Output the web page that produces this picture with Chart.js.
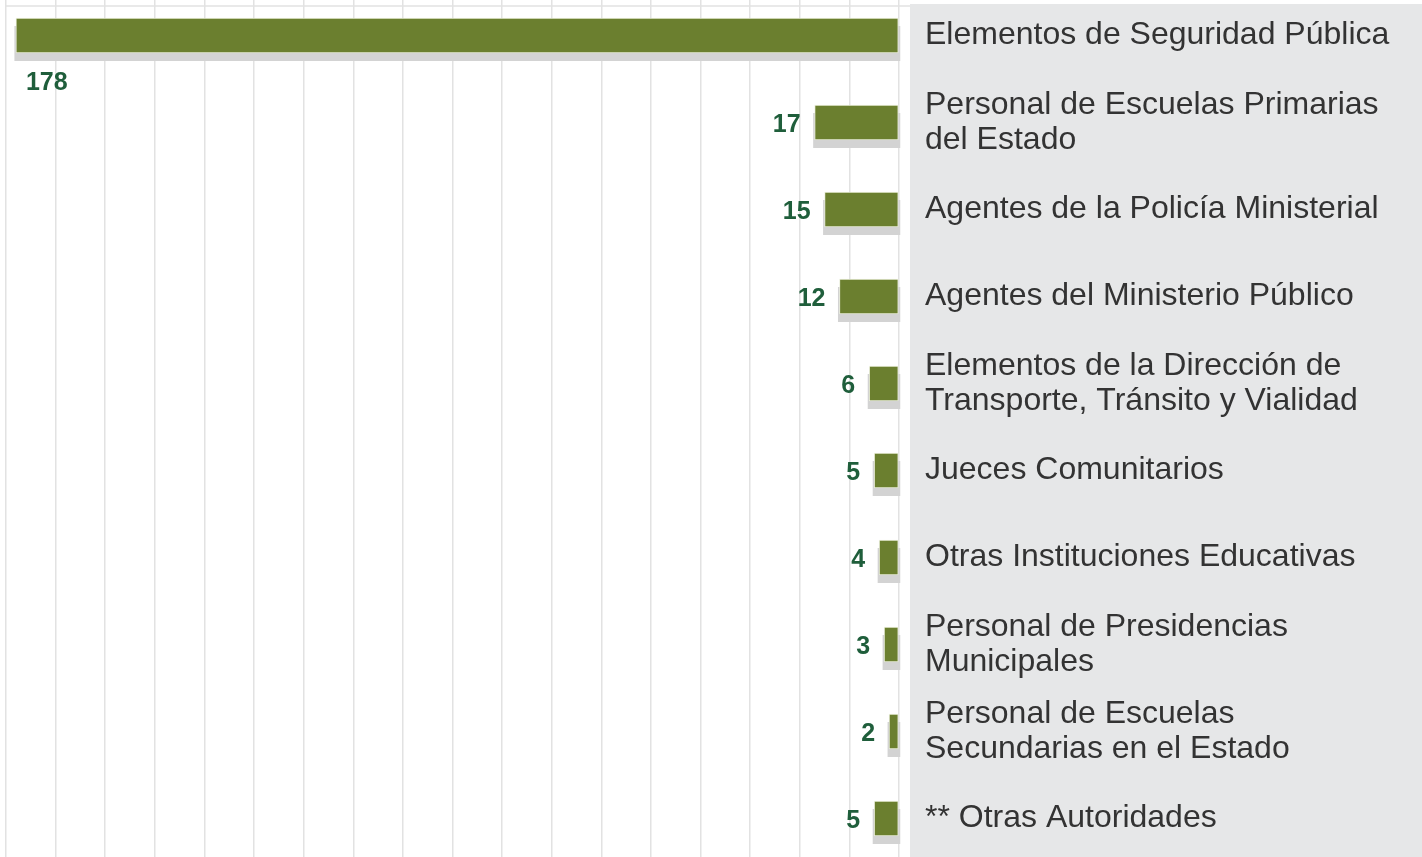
<!DOCTYPE html>
<html>
<head>
<meta charset="utf-8">
<script src="https://cdn.jsdelivr.net/npm/chart.js@4"></script>
<style>
  html, body { margin: 0; padding: 0; background: #fff; overflow: hidden; }
  #wrap { position: absolute; left: 0; top: -8px; width: 1422px; height: 870px; }
</style>
</head>
<body>
<div id="wrap"><canvas id="main-chart"></canvas></div>
<script>
// categorias y valores
const categories = [
    'Elementos de Seguridad Pública',
    ['Personal de Escuelas Primarias', 'del Estado'],
    'Agentes de la Policía Ministerial',
    'Agentes del Ministerio Público',
    ['Elementos de la Dirección de', 'Transporte, Tránsito y Vialidad'],
    'Jueces Comunitarios',
    'Otras Instituciones Educativas',
    ['Personal de Presidencias', 'Municipales'],
    ['Personal de Escuelas', 'Secundarias en el Estado'],
    '** Otras Autoridades'
];
const values = [178, 17, 15, 12, 6, 5, 4, 3, 2, 5];

const green = '#6b7f2f';
const labelGreen = '#1f5e3b';

// fondo gris de las etiquetas + linea superior
let backdrop = {
    id: 'backdrop',
    beforeDraw(chart) {
        let c = chart.ctx, a = chart.chartArea;
        c.save();
        c.fillStyle = '#e6e7e8';
        c.fillRect(a.right + 11, 12, chart.width - a.right - 11, chart.height);
        c.strokeStyle = '#e2e2e2';
        c.lineWidth = 1.5;
        c.beginPath();
        c.moveTo(a.left, 14);
        c.lineTo(a.right + 11, 14);
        c.stroke();
        c.restore();
    }
};

// sombra gris debajo de cada barra
let shadows = {
    id: 'shadows',
    beforeDatasetsDraw(chart) {
        let c = chart.ctx;
        c.save();
        c.fillStyle = '#d3d3d3';
        chart.getDatasetMeta(0).data.forEach(function (bar) {
            let h = bar.height;
            c.fillRect(bar.x - 1.5, bar.y - h / 2 + 8, bar.base - bar.x + 3.5, h);
        });
        c.restore();
    }
};

// numeros junto a las barras
let valueLabels = {
    id: 'valueLabels',
    afterDatasetsDraw(chart) {
        let c = chart.ctx, a = chart.chartArea;
        c.save();
        c.font = 'bold 25px "Liberation Sans", Arial, sans-serif';
        c.fillStyle = labelGreen;
        c.textBaseline = 'middle';
        chart.getDatasetMeta(0).data.forEach(function (bar, i) {
            let txt = String(values[i]);
            let w = c.measureText(txt).width;
            if (bar.x - w - 14 < a.left) {
                c.textAlign = 'left';
                c.fillText(txt, bar.x + 10, bar.y + 48);
            } else {
                c.textAlign = 'right';
                c.fillText(txt, bar.x - 14, bar.y + 3);
            }
        });
        c.restore();
    }
};

let ctx = document.getElementById('main-chart');

let myChart = new Chart(ctx, {
    type: 'bar',
    data: {
        labels: categories,
        datasets: [{
            data: values,
            backgroundColor: green,
            borderColor: 'rgba(235,240,220,0.9)',
            borderWidth: 1,
            borderSkipped: false,
            barThickness: 35
        }]
    },
    options: {
        indexAxis: 'y',
        responsive: true,
        maintainAspectRatio: false,
        animation: false,
        layout: { padding: { left: 6, top: 0, bottom: 0, right: 0 } },
        plugins: {
            legend: { display: false },
            tooltip: { enabled: false }
        },
        scales: {
            x: {
                display: true,
                reverse: true,
                min: 0,
                max: 180,
                ticks: { display: false, stepSize: 10, padding: 0 },
                grid: { color: '#e2e2e2', lineWidth: 1.5, drawTicks: false },
                border: { display: false },
                afterFit(axis) { axis.height = 0; axis.paddingLeft = 0; axis.paddingRight = 0; }
            },
            y: {
                position: 'right',
                grid: { display: false, drawTicks: false },
                border: { display: false },
                afterFit(axis) {
                    axis.width = 523;
                    axis.paddingTop = 0;
                    axis.paddingBottom = 0;
                },
                ticks: {
                    padding: 26,
                    color: '#333333',
                    font: { family: '"Liberation Sans", Arial, sans-serif', size: 32, lineHeight: 1.1 }
                }
            }
        }
    },
    plugins: [backdrop, shadows, valueLabels]
});
</script>
</body>
</html>
